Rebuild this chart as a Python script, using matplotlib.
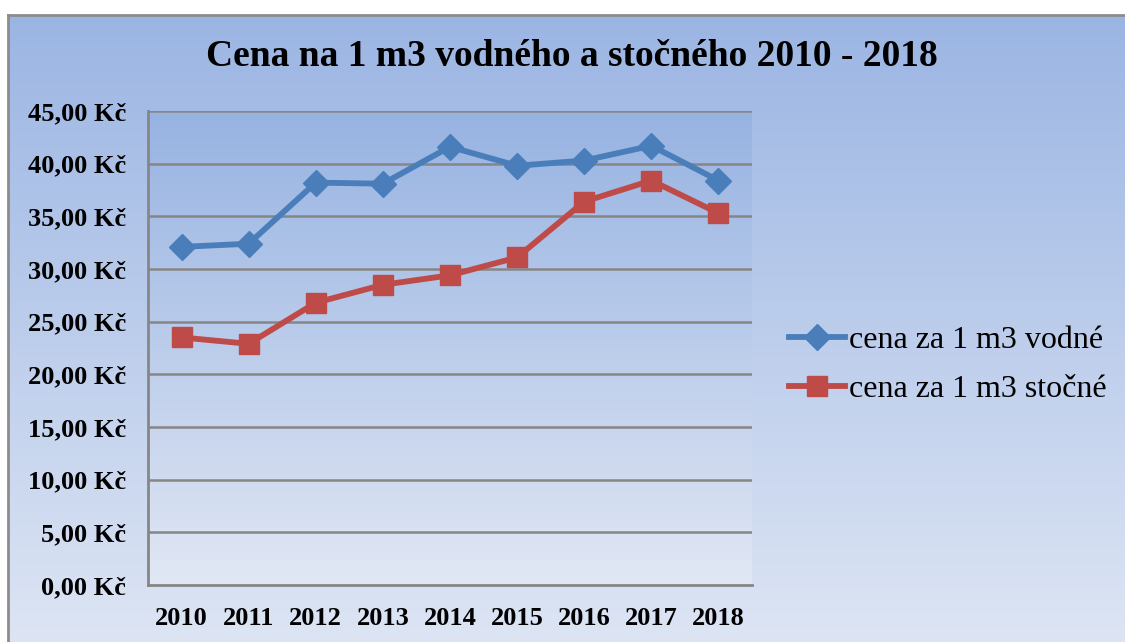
import numpy as np
import matplotlib.pyplot as plt
from matplotlib.colors import LinearSegmentedColormap

# data
years = ['2010', '2011', '2012', '2013', '2014', '2015', '2016', '2017', '2018']
vodne = [32.1, 32.4, 38.2, 38.1, 41.6, 39.8, 40.3, 41.7, 38.4]
stocne = [23.5, 22.9, 26.8, 28.5, 29.4, 31.1, 36.4, 38.4, 35.3]
yticks = [0, 5, 10, 15, 20, 25, 30, 35, 40, 45]

title = 'Cena na 1 m3 vodného a stočného 2010 - 2018'
label_v = 'cena za 1 m3 vodné'
label_s = 'cena za 1 m3 stočné'

W, H = 1125, 642
fig = plt.figure(figsize=(W / 100, H / 100), dpi=100)
fig.patch.set_facecolor('white')

serif = ['Liberation Serif', 'DejaVu Serif']

# chart area background with vertical gradient
bg = fig.add_axes([8 / W, 0, 1 - 8 / W, (H - 15) / H])
cmap_bg = LinearSegmentedColormap.from_list('bg', ['#9bb5e3', '#dde5f4'])
bg.imshow(np.linspace(0, 1, 256).reshape(-1, 1), aspect='auto', cmap=cmap_bg,
          extent=[0, 1, 0, 1], origin='upper')
bg.set_xlim(0, 1)
bg.set_ylim(0, 1)
bg.set_xticks([])
bg.set_yticks([])
for s in ['right', 'bottom']:
    bg.spines[s].set_visible(False)
for s in ['left', 'top']:
    bg.spines[s].set_color('#8c8c8c')
    bg.spines[s].set_linewidth(2)

# plot area
left, right, top, bottom = 148, 752, 111, 585
ax = fig.add_axes([left / W, 1 - bottom / H, (right - left) / W, (bottom - top) / H])
x = np.arange(len(years))
cmap_pa = LinearSegmentedColormap.from_list('pa', ['#97b3e2', '#e1e7f4'])
ax.imshow(np.linspace(0, 1, 256).reshape(-1, 1), aspect='auto', cmap=cmap_pa,
          extent=[-0.5, len(years) - 0.5, 0, 45], origin='upper', zorder=0)
ax.set_xlim(-0.5, len(years) - 0.5)
ax.set_ylim(0, 45)

for v in yticks[1:]:
    ax.axhline(v, color='#868686', lw=1.8, zorder=1)

ax.plot(x, vodne, color='#4a7ebb', lw=4.2, marker='D', markersize=13,
        label=label_v, zorder=3)
ax.plot(x, stocne, color='#be4b48', lw=4.2, marker='s', markersize=15,
        label=label_s, zorder=3)

ax.set_xticks(x)
ax.set_xticklabels(years)
ax.set_yticks(yticks)
ax.set_yticklabels(['%d,00 Kč' % v for v in yticks])
for lab in ax.get_xticklabels() + ax.get_yticklabels():
    lab.set_family(serif)
    lab.set_fontweight('bold')
    lab.set_fontsize(19)
ax.tick_params(axis='both', length=0)
ax.tick_params(axis='y', pad=16)
ax.tick_params(axis='x', pad=16)
for s in ['top', 'right']:
    ax.spines[s].set_visible(False)
for s in ['left', 'bottom']:
    ax.spines[s].set_color('#868686')
    ax.spines[s].set_linewidth(2)

fig.text(572 / W, 1 - 57 / H, title, ha='center', va='center',
         family=serif, fontweight='bold', fontsize=27)

leg = fig.legend(loc='center left', bbox_to_anchor=(789 / W, 1 - 365 / H),
                 frameon=False, prop={'family': serif, 'size': 23},
                 handlelength=1.75, handletextpad=0.12, labelspacing=0.6,
                 borderaxespad=0, borderpad=0)

fig.savefig('out.png', dpi=100)
